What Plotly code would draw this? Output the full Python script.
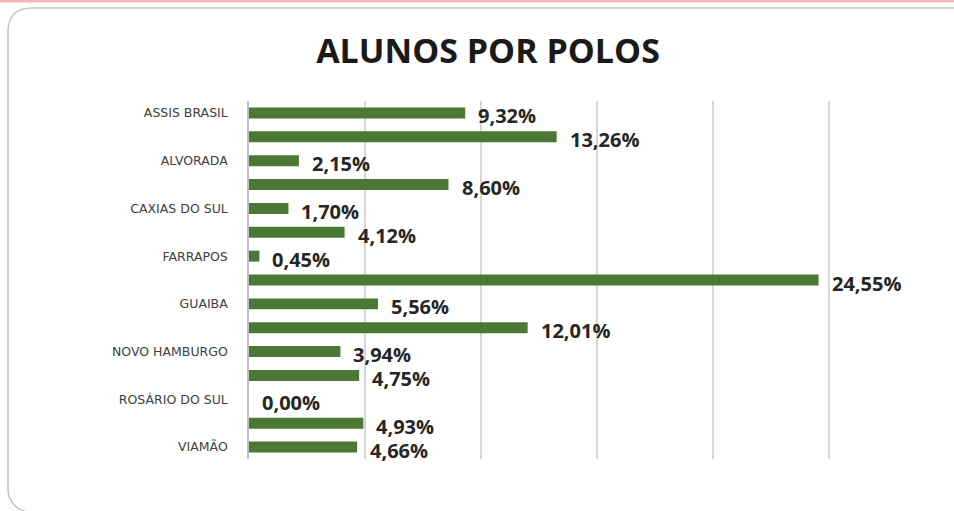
import plotly.graph_objects as go

labels = ["ASSIS BRASIL", "", "ALVORADA", "", "CAXIAS DO SUL", "", "FARRAPOS", "",
          "GUAIBA", "", "NOVO HAMBURGO", "", "ROSÁRIO DO SUL", "", "VIAMÃO"]
values = [9.32, 13.26, 2.15, 8.60, 1.70, 4.12, 0.45, 24.55,
          5.56, 12.01, 3.94, 4.75, 0.00, 4.93, 4.66]
xticks = [0, 5, 10, 15, 20, 25, 30]

pos = list(range(len(values)))
texts = [f"{v:.2f}".replace(".", ",") + "%" for v in values]

W, H = 954, 511
ML, MR, MT, MB = 249, 9, 101, 52
pw, ph = W - ML - MR, H - MT - MB


def px(x):
    return (x - ML) / pw


def py(y):
    return (H - MB - y) / ph


fig = go.Figure()
fig.add_trace(go.Bar(
    x=values, y=pos, orientation="h",
    marker=dict(color="#4b7834", line=dict(width=0)),
    width=0.46, hoverinfo="x+y",
))

for v, i, t in zip(values, pos, texts):
    fig.add_annotation(x=v, y=i, text=f"<b>{t}</b>", showarrow=False,
                       xanchor="left", yanchor="middle", xshift=11, yshift=-3,
                       font=dict(family="Open Sans", size=20, color="#262626"))

fig.update_layout(
    width=W, height=H,
    margin=dict(l=ML, r=MR, t=MT, b=MB),
    paper_bgcolor="white", plot_bgcolor="white",
    showlegend=False,
    title=dict(text="<b>ALUNOS POR POLOS</b>", x=px(488), xanchor="center",
               xref="paper", y=1 - 51 / H, yanchor="middle",
               font=dict(family="Open Sans", size=34, color="#1a1a1a")),
    xaxis=dict(range=[0, 30], tickvals=xticks, showticklabels=False,
               showgrid=True, gridcolor="#d6d6d6", gridwidth=1.5,
               zeroline=False, showline=False, fixedrange=True, automargin=False),
    yaxis=dict(tickmode="array", tickvals=pos, ticktext=labels,
               range=[len(values) - 0.5, -0.5], automargin=False,
               showline=True, linecolor="#bfbfbf", linewidth=1.5,
               ticks="outside", ticklen=17, tickcolor="rgba(0,0,0,0)",
               tickfont=dict(family="DejaVu Sans", size=12.5, color="#404040"),
               showgrid=False, zeroline=False),
)

fig.add_shape(type="path", xref="paper", yref="paper",
              path=(f"M {px(26)} {py(512)} Q {px(8)} {py(506)} {px(8)} {py(488)} "
                    f"L {px(8)} {py(32)} Q {px(8)} {py(8)} {px(32)} {py(8)} L {px(960)} {py(8)}"),
              line=dict(color="#c4c4c4", width=1.5))
fig.add_shape(type="line", xref="paper", yref="paper", x0=px(0), x1=px(954), y0=py(1), y1=py(1),
              line=dict(color="#f0b8b8", width=3))

fig.write_html("out.html", config={"displayModeBar": False},
               post_script="document.body.style.margin='0';")
